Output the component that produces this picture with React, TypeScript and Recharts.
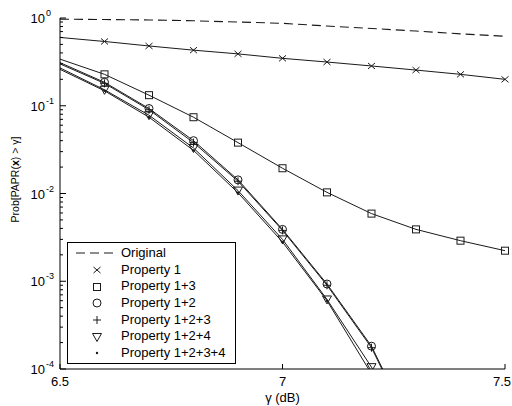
import React from 'react';
import { LineChart, Line, XAxis, YAxis, Legend } from 'recharts';

// gamma (dB) sample points
const gamma = [6.5, 6.6, 6.7, 6.8, 6.9, 7.0, 7.1, 7.2, 7.3, 7.4, 7.5];

// Prob[PAPR(x) > gamma] per scheme
const original = [0.97, 0.96, 0.95, 0.93, 0.9, 0.87, 0.81, 0.76, 0.71, 0.66, 0.62];
const prop1 = [0.6, 0.54, 0.48, 0.43, 0.39, 0.347, 0.315, 0.284, 0.255, 0.228, 0.2];
const prop13 = [0.34, 0.228, 0.132, 0.074, 0.038, 0.0194, 0.0103, 0.0059, 0.0039, 0.0029, 0.00223];
const prop12 = [0.31, 0.185, 0.093, 0.04, 0.0143, 0.0039, 0.00093, 0.000182, 0.0000166, null, null];
const prop123 = [0.3, 0.18, 0.09, 0.038, 0.0138, 0.0038, 0.0009, 0.000175, 0.000016, null, null];
const prop124 = [0.27, 0.152, 0.078, 0.033, 0.0108, 0.003, 0.00062, 0.000105, 0.000012, null, null];
const prop1234 = [0.26, 0.148, 0.074, 0.031, 0.0102, 0.0028, 0.0006, 0.000088, 0.00001, null, null];

// axis ticks
const xTicks = [6.5, 7, 7.5];
const decades = [1e-4, 1e-3, 1e-2, 1e-1, 1];
const minorMantissas = [2, 3, 4, 5, 6, 7, 8, 9];

type MarkerKind = 'none' | 'cross' | 'square' | 'circle' | 'plus' | 'triangle' | 'dot';

const series: { key: string; name: string; values: (number | null)[]; marker: MarkerKind; dashed?: boolean }[] = [
  { key: 'original', name: 'Original', values: original, marker: 'none', dashed: true },
  { key: 'p1', name: 'Property 1', values: prop1, marker: 'cross' },
  { key: 'p13', name: 'Property 1+3', values: prop13, marker: 'square' },
  { key: 'p12', name: 'Property 1+2', values: prop12, marker: 'circle' },
  { key: 'p123', name: 'Property 1+2+3', values: prop123, marker: 'plus' },
  { key: 'p124', name: 'Property 1+2+4', values: prop124, marker: 'triangle' },
  { key: 'p1234', name: 'Property 1+2+3+4', values: prop1234, marker: 'dot' },
];

const data = gamma.map((g, i) => {
  const row: Record<string, number | null> = { gamma: g };
  series.forEach((s) => {
    row[s.key] = s.values[i];
  });
  return row;
});

const yTicks = [
  ...decades,
  ...decades.slice(0, -1).flatMap((d) => minorMantissas.map((m) => m * d)),
].sort((a, b) => a - b);

const FONT = '"Liberation Sans", Arial, Helvetica, sans-serif';
const INK = '#1a1a1a';

const isDecade = (v: number) => Math.abs(Math.log10(v) - Math.round(Math.log10(v))) < 1e-6;

const Marker = ({ kind, cx, cy }: { kind: MarkerKind; cx: number; cy: number }) => {
  const s = { stroke: INK, strokeWidth: 1, fill: 'none' };
  switch (kind) {
    case 'cross':
      return (
        <g {...s}>
          <line x1={cx - 3.5} y1={cy - 3} x2={cx + 3.5} y2={cy + 3} />
          <line x1={cx - 3.5} y1={cy + 3} x2={cx + 3.5} y2={cy - 3} />
        </g>
      );
    case 'square':
      return <rect x={cx - 3.5} y={cy - 3.5} width={7} height={7} {...s} />;
    case 'circle':
      return <circle cx={cx} cy={cy} r={4} {...s} />;
    case 'plus':
      return (
        <g {...s}>
          <line x1={cx - 4} y1={cy} x2={cx + 4} y2={cy} />
          <line x1={cx} y1={cy - 4} x2={cx} y2={cy + 4} />
        </g>
      );
    case 'triangle':
      return <polygon points={`${cx - 4.5},${cy - 3.5} ${cx + 4.5},${cy - 3.5} ${cx},${cy + 4.5}`} {...s} />;
    case 'dot':
      return <circle cx={cx} cy={cy} r={1.2} fill={INK} stroke="none" />;
    default:
      return null;
  }
};

const makeDot = (kind: MarkerKind) => (props: any) => {
  const { cx, cy, payload, index } = props;
  if (cx == null || cy == null || payload?.gamma === gamma[0]) return <g key={`d-${index}`} />;
  return (
    <g key={`d-${index}`}>
      <Marker kind={kind} cx={cx} cy={cy} />
    </g>
  );
};

const LeftTick = (props: any) => {
  const { x, y, payload } = props;
  const v = payload.value;
  const major = isDecade(v);
  return (
    <g>
      <line x1={x} y1={y} x2={x + (major ? 6 : 3)} y2={y} stroke="#000" />
      {major && (
        <g fontFamily={FONT} fill="#000">
          <text x={x - 15} y={y + 5} fontSize={13} textAnchor="end">10</text>
          <text x={x - 14} y={y - 2} fontSize={9}>{Math.round(Math.log10(v))}</text>
        </g>
      )}
    </g>
  );
};

const RightTick = (props: any) => {
  const { x, y, payload } = props;
  const major = isDecade(payload.value);
  return <line x1={x} y1={y} x2={x - (major ? 6 : 3)} y2={y} stroke="#000" />;
};

const BottomTick = (props: any) => {
  const { x, y, payload } = props;
  const last = payload.value === xTicks[xTicks.length - 1];
  return (
    <g>
      <line x1={x} y1={y} x2={x} y2={y - 5} stroke="#000" />
      <text
        x={last ? x + 6 : x}
        y={y + 17}
        fontSize={13}
        fontFamily={FONT}
        textAnchor={last ? 'end' : 'middle'}
        fill="#000"
      >
        {payload.value}
      </text>
    </g>
  );
};

const TopTick = (props: any) => {
  const { x, y } = props;
  return <line x1={x} y1={y} x2={x} y2={y + 5} stroke="#000" />;
};

const LegendBox = () => (
  <div
    style={{
      border: '1px solid #000',
      background: '#fff',
      boxSizing: 'border-box',
      width: '100%',
      height: '100%',
      paddingTop: 2,
      fontFamily: FONT,
      fontSize: 13,
      color: '#000',
    }}
  >
    {series.map((s) => (
      <div key={s.key} style={{ display: 'flex', alignItems: 'center', height: 16.7, lineHeight: '16.7px' }}>
        <svg width={53} height={16} style={{ flex: 'none' }}>
          {s.dashed ? (
            <line x1={8} y1={8} x2={50} y2={8} stroke={INK} strokeDasharray="9 5" />
          ) : (
            <Marker kind={s.marker} cx={29} cy={8} />
          )}
        </svg>
        <span style={{ whiteSpace: 'nowrap' }}>{s.name}</span>
      </div>
    ))}
  </div>
);

export default function App() {
  return (
    <div style={{ width: 512, height: 406, background: '#fff', position: 'relative' }}>
      <style>{'body{margin:0;}'}</style>
      <LineChart width={512} height={406} data={data} margin={{ top: 18, right: 7, bottom: 0, left: 0 }}>
        <XAxis
          xAxisId="bottom"
          dataKey="gamma"
          type="number"
          domain={[6.5, 7.5]}
          ticks={xTicks}
          interval={0}
          height={37}
          tickSize={0}
          tickMargin={0}
          tickLine={false}
          stroke="#000"
          tick={BottomTick}
          label={{
            content: (p: any) => {
              const vb = p.viewBox || { x: 60, y: 369, width: 445, height: 37 };
              return (
                <text x={vb.x + vb.width / 2} y={vb.y + 33} fontSize={13} fontFamily={FONT} textAnchor="middle" fill="#000">
                  γ (dB)
                </text>
              );
            },
          }}
        />
        <XAxis
          xAxisId="top"
          orientation="top"
          dataKey="gamma"
          type="number"
          domain={[6.5, 7.5]}
          ticks={xTicks}
          interval={0}
          height={0}
          tickSize={0}
          tickMargin={0}
          tickLine={false}
          stroke="#000"
          tick={TopTick}
        />
        <YAxis
          yAxisId="left"
          scale="log"
          type="number"
          domain={[1e-4, 1]}
          allowDataOverflow
          ticks={yTicks}
          interval={0}
          width={60}
          tickSize={0}
          tickMargin={0}
          tickLine={false}
          stroke="#000"
          tick={LeftTick}
          label={{
            content: (p: any) => {
              const vb = p.viewBox || { x: 0, y: 18, width: 60, height: 351 };
              const cx = vb.x + 15;
              const cy = vb.y + vb.height / 2 - 14;
              return (
                <text
                  x={cx}
                  y={cy}
                  transform={`rotate(-90 ${cx} ${cy})`}
                  fontSize={10.5}
                  fontFamily={FONT}
                  textAnchor="middle"
                  dominantBaseline="central"
                  fill="#000"
                >
                  Prob[PAPR(<tspan fontWeight="bold">x</tspan>) &gt; γ]
                </text>
              );
            },
          }}
        />
        <YAxis
          yAxisId="right"
          orientation="right"
          scale="log"
          type="number"
          domain={[1e-4, 1]}
          allowDataOverflow
          ticks={yTicks}
          interval={0}
          width={0}
          tickSize={0}
          tickMargin={0}
          tickLine={false}
          stroke="#000"
          tick={RightTick}
        />
        <Legend
          layout="vertical"
          align="center"
          verticalAlign="middle"
          wrapperStyle={{ left: 67, top: 242, width: 169, height: 122 }}
          content={() => <LegendBox />}
        />
        {series.map((s) => (
          <Line
            key={s.key}
            xAxisId="bottom"
            yAxisId="left"
            dataKey={s.key}
            name={s.name}
            type="linear"
            stroke={INK}
            strokeWidth={s.dashed ? 1.1 : 1}
            strokeDasharray={s.dashed ? '9 5' : undefined}
            dot={s.marker === 'none' ? false : makeDot(s.marker)}
            activeDot={false}
            isAnimationActive={false}
          />
        ))}
      </LineChart>
    </div>
  );
}
